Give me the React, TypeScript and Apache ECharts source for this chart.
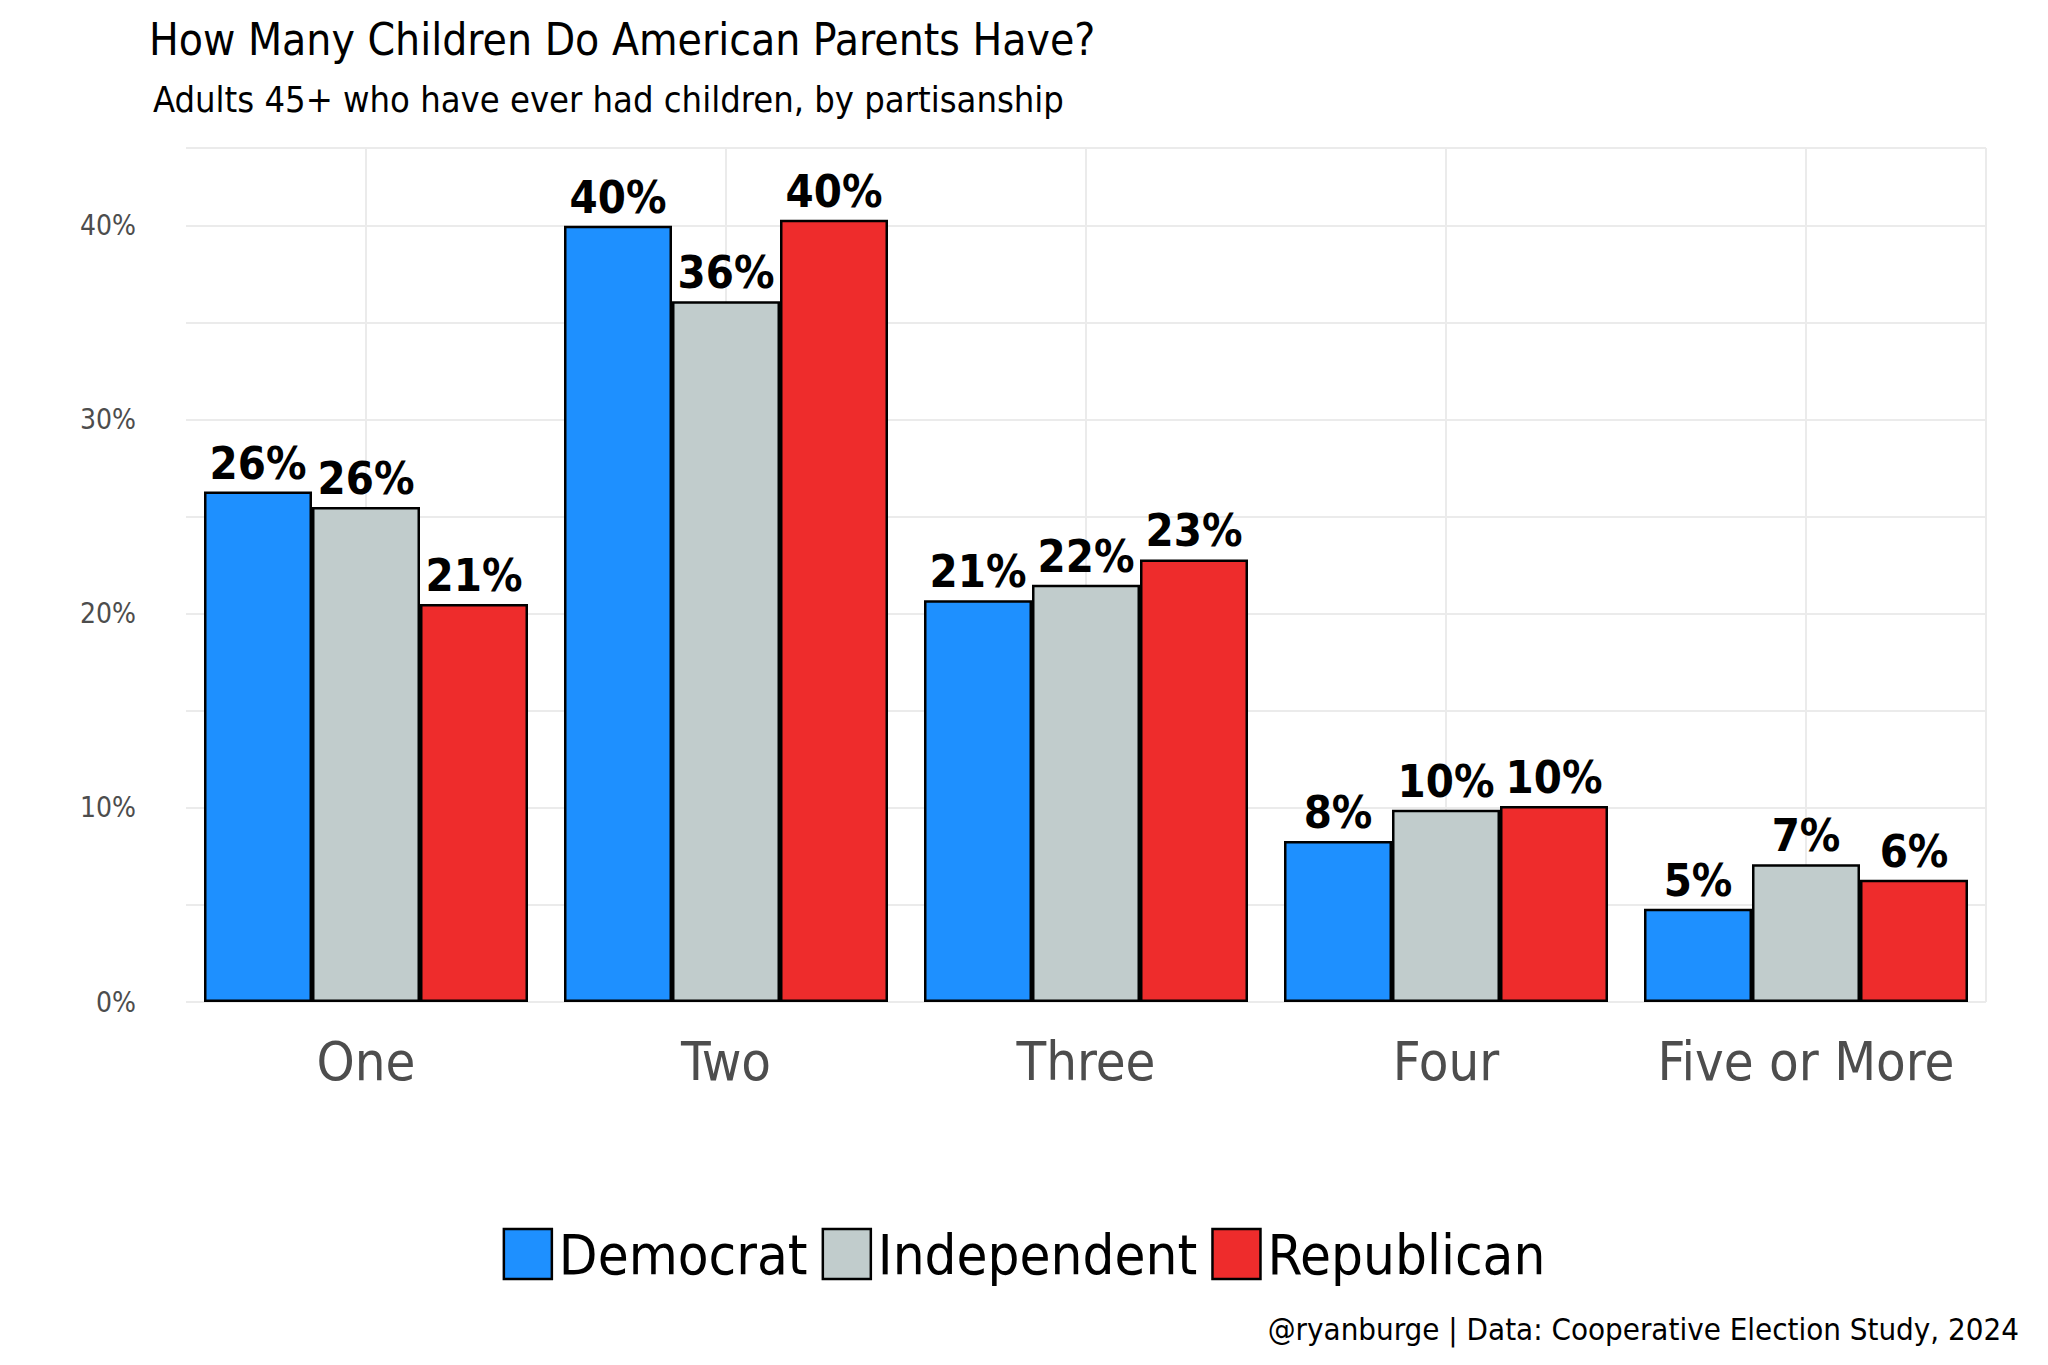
import React, { useEffect, useRef } from 'react';
import * as echarts from 'echarts';

const categories = ['One', 'Two', 'Three', 'Four', 'Five or More'];
const democrat = [26.3, 40.0, 20.7, 8.3, 4.8];
const independent = [25.5, 36.1, 21.5, 9.9, 7.1];
const republican = [20.5, 40.3, 22.8, 10.1, 6.3];
const seriesNames = ['Democrat', 'Independent', 'Republican'];
const colors = ['#1e90ff', '#c1cccc', '#ee2c2c'];

const FONT = "'Liberation Sans Narrow', 'DejaVu Sans Condensed', 'Roboto', sans-serif";

const App: React.FC = () => {
  const chartRef = useRef<HTMLDivElement>(null);

  useEffect(() => {
    if (!chartRef.current) return;
    const chart = echarts.init(chartRef.current, null, { renderer: 'svg' });

    const values = [democrat, independent, republican];
    const bars = seriesNames.map((name, i) => ({
      name,
      type: 'bar',
      data: values[i],
      barGap: '0%',
      barCategoryGap: '10%',
      itemStyle: { color: colors[i], borderColor: '#000', borderWidth: 2.5 },
      label: {
        show: true,
        position: 'top',
        distance: 6,
        formatter: (p: any) => Math.round(p.value) + '%',
        fontFamily: FONT,
        fontWeight: 'bold',
        fontSize: 45,
        color: '#000',
      },
    }));

    // half-category axis only used for vertical grid lines at category centres
    const halfSlots = categories.flatMap((c) => [c + '-a', c + '-b']);

    const option = {
      animation: false,
      textStyle: { fontFamily: FONT },
      title: [
        {
          text: 'How Many Children Do American Parents Have?',
          left: 136,
          top: 4,
          textStyle: { fontFamily: FONT, fontSize: 44, fontWeight: 'normal', color: '#000' },
        },
        {
          text: 'Adults 45+ who have ever had children, by partisanship',
          left: 140,
          top: 68,
          textStyle: { fontFamily: FONT, fontSize: 36, fontWeight: 'normal', color: '#000' },
        },
        {
          text: '@ryanburge | Data: Cooperative Election Study, 2024',
          right: 16,
          top: 1300,
          textStyle: { fontFamily: FONT, fontSize: 31, fontWeight: 'normal', color: '#000' },
        },
      ],
      legend: {
        data: seriesNames,
        bottom: 70,
        left: 'center',
        itemWidth: 48,
        itemHeight: 50,
        itemGap: 14,
        icon: 'rect',
        itemStyle: { borderColor: '#000', borderWidth: 2.5 },
        textStyle: { fontFamily: FONT, fontSize: 56, color: '#000', padding: [0, 0, 0, 2] },
      },
      grid: { left: 178, right: 54, top: 140, bottom: 355, containLabel: false },
      xAxis: [
        {
          type: 'category',
          data: categories,
          axisLine: { show: false },
          axisTick: { show: false },
          splitLine: { show: false },
          axisLabel: { fontFamily: FONT, fontSize: 54, color: '#4d4d4d', margin: 32, interval: 0 },
        },
        {
          type: 'category',
          data: halfSlots,
          position: 'bottom',
          axisLine: { show: false },
          axisTick: { show: false },
          axisLabel: { show: false },
          splitLine: {
            show: true,
            interval: (index: number) => index % 2 === 1,
            lineStyle: { color: '#ebebeb', width: 2 },
          },
        },
      ],
      yAxis: {
        type: 'value',
        min: 0,
        max: 44,
        interval: 5,
        axisLine: { show: false },
        axisTick: { show: false },
        axisLabel: {
          fontFamily: FONT,
          fontSize: 28,
          color: '#4d4d4d',
          margin: 50,
          formatter: (v: number) => (v % 10 === 0 ? v + '%' : ''),
        },
        splitLine: { lineStyle: { color: '#ebebeb', width: 2 } },
      },
      series: bars,
    };

    chart.setOption(option as any);
    const onResize = () => chart.resize();
    window.addEventListener('resize', onResize);
    return () => {
      window.removeEventListener('resize', onResize);
      chart.dispose();
    };
  }, []);

  return <div ref={chartRef} style={{ width: '2032px', height: '1349px', background: '#fff' }} />;
};

export default App;
